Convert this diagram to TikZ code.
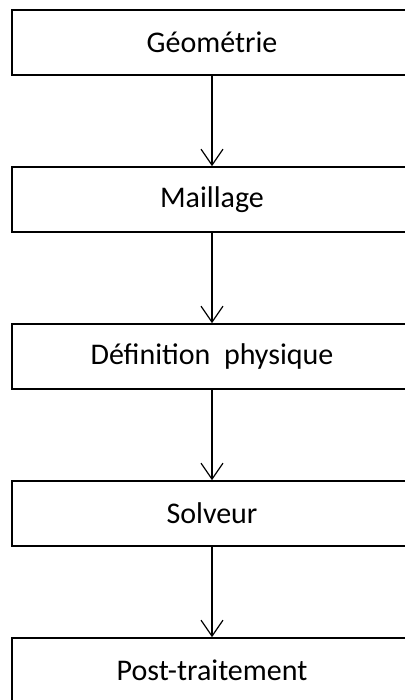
\documentclass[tikz,border=0pt]{standalone}
\usepackage{fontspec}
\setmainfont{Carlito}
\usetikzlibrary{positioning,arrows.meta}

\begin{document}
\begin{tikzpicture}[x=1pt, y=1pt, >={Straight Barb[length=16pt,width=22pt]},
  stage/.style={draw, line width=1.6pt, minimum width=400pt, minimum height=65pt,
    inner sep=0pt, font=\fontsize{30}{36}\selectfont}]

\useasboundingbox (0,0) rectangle (404,700);

\foreach \t [count=\y] in {Géométrie,Maillage,Définition\ \ physique,Solveur,Post-traitement}
  \node [stage] (stage-\y) at (212,657.5-\y*157+157) {\t};

\foreach \i [evaluate=\i as \j using int(\i+1)] in {1,...,4}
  \draw [->, line width=1.2pt] (stage-\i) -- (stage-\j);

\end{tikzpicture}
\end{document}
